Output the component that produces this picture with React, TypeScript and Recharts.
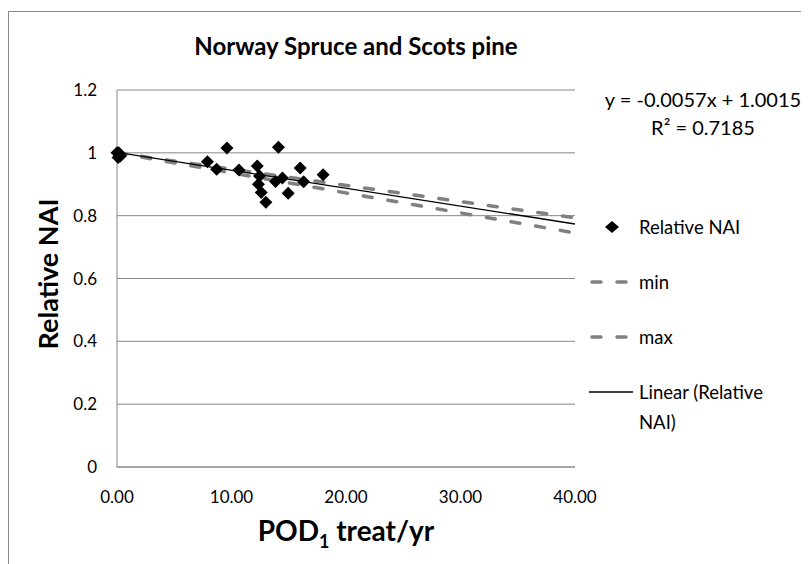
import React from 'react';
import { ComposedChart, Scatter, Line, XAxis, YAxis, CartesianGrid } from 'recharts';

const FONT = 'Lato, "Noto Sans", sans-serif';

// Relative NAI observations (x = POD1 treat/yr)
const podX = [0, 0.15, 0.3, 0.1, 7.9, 8.7, 9.6, 10.65, 12.25, 12.45, 12.35, 12.6, 13.0, 13.85, 14.1, 14.45, 14.95, 16.0, 16.3, 18.0];
const relNAI = [1.0, 1.0, 0.99, 0.985, 0.972, 0.948, 1.015, 0.945, 0.958, 0.926, 0.9, 0.874, 0.843, 0.909, 1.018, 0.92, 0.871, 0.952, 0.908, 0.93];

// min / max reference lines and linear trend (endpoints)
const lineX = [0, 40];
const minY = [1.0, 0.745];
const maxY = [1.0, 0.793];
const trendY = [1.0015, 0.7735];

const xTicks = [0, 10, 20, 30, 40];
const yTicks = [0, 0.2, 0.4, 0.6, 0.8, 1, 1.2];

const title = 'Norway Spruce and Scots pine';
const equation = 'y = -0.0057x + 1.0015';
const rSquared = 'R² = 0.7185';
const legendNames = ['Relative NAI', 'min', 'max', 'Linear (Relative NAI)'];

const scatterData = podX.map((x, i) => ({ x, y: relNAI[i] }));
const minData = lineX.map((x, i) => ({ x, y: minY[i] }));
const maxData = lineX.map((x, i) => ({ x, y: maxY[i] }));
const trendData = lineX.map((x, i) => ({ x, y: trendY[i] }));

const Diamond = (props: any) => {
  const { cx, cy } = props;
  const r = 6.5;
  return <path d={`M${cx},${cy - r}L${cx + r},${cy}L${cx},${cy + r}L${cx - r},${cy}Z`} fill="#000" />;
};

const LegendBox = () => {
  const row: React.CSSProperties = { position: 'absolute', left: 0, display: 'flex', alignItems: 'flex-start', fontFamily: FONT, fontSize: 18.5, color: '#000', lineHeight: '30px' };
  const dash = <svg width={50} height={30} style={{ flex: 'none' }}><line x1={3} y1={15} x2={44} y2={15} stroke="#808080" strokeWidth={3.5} strokeDasharray="9 16" strokeLinecap="round" /></svg>;
  return (
    <div style={{ position: 'absolute', left: 581, top: 204, width: 220, height: 240 }}>
      <div style={{ ...row, top: 0 }}>
        <svg width={50} height={30} style={{ flex: 'none' }}><path d="M23,9L30,15L23,21L16,15Z" fill="#000" /></svg>
        <span>{legendNames[0]}</span>
      </div>
      <div style={{ ...row, top: 55 }}>{dash}<span>{legendNames[1]}</span></div>
      <div style={{ ...row, top: 110 }}>{dash}<span>{legendNames[2]}</span></div>
      <div style={{ ...row, top: 165 }}>
        <svg width={50} height={30} style={{ flex: 'none' }}><line x1={0} y1={15} x2={44} y2={15} stroke="#000" strokeWidth={1.3} /></svg>
        <span style={{ width: 145 }}>{legendNames[3]}</span>
      </div>
    </div>
  );
};

export default function App() {
  return (
    <div style={{ position: 'relative', width: 801, height: 556 }}>
      <div style={{ position: 'absolute', left: 0, top: 3, width: 820, height: 570, borderTop: '1.5px solid #8a8a8a', borderLeft: '1.5px solid #8a8a8a' }} />
      <ComposedChart width={801} height={556} margin={{ top: 82, right: 234, bottom: 0, left: 0 }} style={{ position: 'absolute', left: 0, top: 0 }}>
        <CartesianGrid horizontal vertical={false} stroke="#868686" strokeWidth={1} />
        <XAxis type="number" dataKey="x" domain={[0, 40]} ticks={xTicks} interval={0} height={97} tickLine={false} tickSize={0} tickMargin={24}
          axisLine={{ stroke: '#868686' }} tick={{ fill: '#000', fontSize: 17, fontFamily: FONT }} tickFormatter={(v: number) => v.toFixed(2)} />
        <YAxis type="number" domain={[0, 1.2]} ticks={yTicks} interval={0} width={109} tickLine={false} tickSize={0} tickMargin={20}
          axisLine={{ stroke: '#868686' }} tick={{ fill: '#000', fontSize: 17, fontFamily: FONT }} tickFormatter={(v: number) => String(v)} />
        <Line data={minData} dataKey="y" name="min" stroke="#808080" strokeWidth={3.5} strokeDasharray="9 16" strokeLinecap="round" dot={false} isAnimationActive={false} />
        <Line data={maxData} dataKey="y" name="max" stroke="#808080" strokeWidth={3.5} strokeDasharray="9 16" strokeLinecap="round" dot={false} isAnimationActive={false} />
        <Line data={trendData} dataKey="y" name="Linear (Relative NAI)" stroke="#000" strokeWidth={1.3} dot={false} isAnimationActive={false} />
        <Scatter data={scatterData} dataKey="y" name="Relative NAI" fill="#000" shape={Diamond} isAnimationActive={false} />
      </ComposedChart>
      <LegendBox />
      <div style={{ position: 'absolute', left: 0, width: 696, top: 23, textAlign: 'center', fontFamily: FONT, fontWeight: 700, fontSize: 24, color: '#000', whiteSpace: 'nowrap' }}>{title}</div>
      <div style={{ position: 'absolute', left: 590, width: 210, top: 77, textAlign: 'center', fontFamily: FONT, fontSize: 20, lineHeight: '28px', color: '#000', whiteSpace: 'nowrap' }}>
        <div>{equation}</div>
        <div>{rSquared}</div>
      </div>
      <div style={{ position: 'absolute', left: 109, width: 458, top: 505, textAlign: 'center', fontFamily: FONT, fontWeight: 700, fontSize: 28, color: '#000', whiteSpace: 'nowrap' }}>
        POD<sub style={{ fontSize: 18 }}>1</sub> treat/yr
      </div>
      <div style={{ position: 'absolute', left: 39, top: 266, width: 0, height: 0 }}>
        <div style={{ position: 'absolute', transform: 'translate(-50%, -50%) rotate(-90deg)', fontFamily: FONT, fontWeight: 700, fontSize: 27, color: '#000', whiteSpace: 'nowrap' }}>Relative NAI</div>
      </div>
    </div>
  );
}
